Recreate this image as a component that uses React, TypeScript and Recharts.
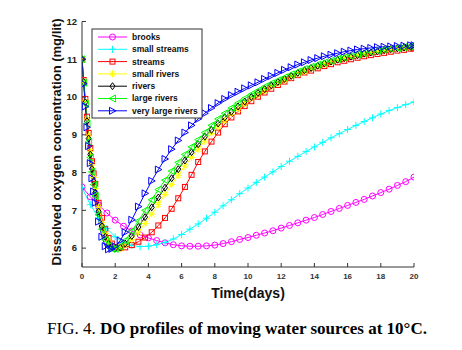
import React from 'react';
import { LineChart, Line, XAxis, YAxis } from 'recharts';

// time grids (days)
const tMain = [0, 0.1, 0.2, 0.3, 0.4, 0.5, 0.6, 0.7, 0.8, 1.0, 1.2, 1.4, 1.6, 1.8, 2.0, 2.3, 2.6,
  3.0, 3.4, 3.8, 4.2, 4.6, 5.0, 5.4, 5.8, 6.2, 6.6, 7.0, 7.4, 7.8, 8.2, 8.6, 9.0, 9.4, 9.8,
  10.2, 10.6, 11.0, 11.4, 11.8, 12.2, 12.6, 13.0, 13.4, 13.8, 14.2, 14.6, 15.0, 15.4, 15.8,
  16.2, 16.6, 17.0, 17.4, 17.8, 18.2, 18.6, 19.0, 19.4, 19.8, 20];
const tSlow = [0, 0.5, 1, 1.5, 2, 2.5, 3, 3.5, 4, 4.5, 5, 5.5, 6, 6.5, 7, 7.5, 8, 8.5, 9, 9.5,
  10, 10.5, 11, 11.5, 12, 12.5, 13, 13.5, 14, 14.5, 15, 15.5, 16, 16.5, 17, 17.5, 18, 18.5, 19, 19.5, 20];

// DO values (mg/lit)
const brooks = [7.62, 7.36, 7.14, 6.93, 6.74, 6.58, 6.45, 6.35, 6.27, 6.2, 6.14, 6.09, 6.06, 6.05, 6.05,
  6.06, 6.08, 6.12, 6.17, 6.23, 6.28, 6.34, 6.4, 6.46, 6.53, 6.6, 6.67, 6.74, 6.81, 6.89, 6.97, 7.05,
  7.13, 7.21, 7.29, 7.38, 7.47, 7.56, 7.66, 7.76, 7.88];
const smallStreams = [7.6, 7.15, 6.8, 6.52, 6.3, 6.15, 6.07, 6.04, 6.05, 6.09, 6.15, 6.24, 6.36, 6.5, 6.64,
  6.79, 6.95, 7.12, 7.28, 7.44, 7.59, 7.74, 7.88, 8.02, 8.16, 8.3, 8.43, 8.56, 8.68, 8.8, 8.92, 9.03,
  9.14, 9.25, 9.35, 9.45, 9.55, 9.64, 9.72, 9.8, 9.87];
const streams = [11.0, 10.45, 9.95, 9.48, 9.05, 8.65, 8.3, 7.98, 7.7, 7.2, 6.8, 6.5, 6.27, 6.12, 6.03,
  6.0, 6.02, 6.08, 6.17, 6.28, 6.42, 6.6, 6.8, 7.04, 7.32, 7.62, 7.94, 8.28, 8.56, 8.82, 9.06, 9.28,
  9.46, 9.62, 9.76, 9.89, 10.01, 10.12, 10.22, 10.32, 10.41, 10.5, 10.58, 10.65, 10.7, 10.76, 10.82,
  10.87, 10.92, 10.96, 11.0, 11.04, 11.08, 11.11, 11.14, 11.17, 11.2, 11.23, 11.25, 11.28, 11.29];
const smallRivers = [11.0, 10.42, 9.9, 9.42, 8.97, 8.56, 8.2, 7.87, 7.58, 7.08, 6.68, 6.39, 6.19, 6.07, 6.01,
  6.0, 6.07, 6.22, 6.42, 6.65, 6.9, 7.16, 7.42, 7.68, 7.93, 8.17, 8.4, 8.62, 8.83, 9.03, 9.21, 9.38,
  9.54, 9.68, 9.82, 9.95, 10.06, 10.17, 10.27, 10.36, 10.45, 10.53, 10.61, 10.68, 10.75, 10.81, 10.87,
  10.92, 10.97, 11.02, 11.06, 11.1, 11.14, 11.17, 11.2, 11.23, 11.26, 11.28, 11.3, 11.32, 11.33];
const rivers = [11.0, 10.4, 9.86, 9.36, 8.9, 8.48, 8.1, 7.77, 7.47, 6.97, 6.58, 6.3, 6.12, 6.02, 5.99,
  6.02, 6.12, 6.32, 6.56, 6.82, 7.08, 7.34, 7.6, 7.85, 8.09, 8.32, 8.54, 8.75, 8.95, 9.13, 9.3, 9.46,
  9.61, 9.75, 9.88, 10.0, 10.11, 10.21, 10.31, 10.4, 10.48, 10.56, 10.64, 10.71, 10.77, 10.83, 10.89,
  10.94, 10.99, 11.03, 11.07, 11.11, 11.15, 11.18, 11.21, 11.24, 11.27, 11.29, 11.31, 11.33, 11.34];
const largeRivers = [11.0, 10.38, 9.82, 9.3, 8.82, 8.4, 8.02, 7.68, 7.38, 6.88, 6.5, 6.22, 6.05, 5.98, 5.98,
  6.05, 6.2, 6.45, 6.72, 7.0, 7.28, 7.55, 7.8, 8.04, 8.27, 8.48, 8.68, 8.87, 9.06, 9.25, 9.42, 9.57,
  9.71, 9.84, 9.96, 10.07, 10.17, 10.27, 10.36, 10.44, 10.52, 10.6, 10.67, 10.74, 10.8, 10.86, 10.91,
  10.96, 11.01, 11.05, 11.09, 11.13, 11.17, 11.2, 11.23, 11.26, 11.28, 11.3, 11.32, 11.34, 11.35];
const veryLargeRivers = [11.0, 10.35, 9.75, 9.2, 8.7, 8.25, 7.85, 7.5, 7.2, 6.7, 6.3, 6.05, 5.97, 5.98, 6.05,
  6.2, 6.42, 6.75, 7.1, 7.45, 7.78, 8.08, 8.36, 8.62, 8.85, 9.06, 9.25, 9.42, 9.57, 9.71, 9.84, 9.95,
  10.05, 10.14, 10.23, 10.31, 10.39, 10.48, 10.56, 10.64, 10.72, 10.79, 10.86, 10.92, 10.98, 11.03, 11.08,
  11.12, 11.16, 11.2, 11.23, 11.26, 11.28, 11.3, 11.32, 11.33, 11.34, 11.35, 11.36, 11.37, 11.37];

const xTicks = [0, 2, 4, 6, 8, 10, 12, 14, 16, 18, 20];
const yTicks = [6, 7, 8, 9, 10, 11, 12];
const seriesNames = ['brooks', 'small streams', 'streams', 'small rivers', 'rivers', 'large rivers', 'very large rivers'];

const slowData = tSlow.map((t, i) => ({ t, brooks: brooks[i], smallStreams: smallStreams[i] }));
const mainData = tMain.map((t, i) => ({
  t,
  streams: streams[i],
  smallRivers: smallRivers[i],
  rivers: rivers[i],
  largeRivers: largeRivers[i],
  veryLargeRivers: veryLargeRivers[i],
}));

const series = [
  { key: 'brooks', name: seriesNames[0], color: '#ff00ff', shape: 'circle', data: slowData },
  { key: 'smallStreams', name: seriesNames[1], color: '#00ffff', shape: 'plus', data: slowData },
  { key: 'streams', name: seriesNames[2], color: '#ff0000', shape: 'square', data: mainData },
  { key: 'smallRivers', name: seriesNames[3], color: '#ffff00', shape: 'star', data: mainData },
  { key: 'rivers', name: seriesNames[4], color: '#000000', shape: 'diamond', data: mainData },
  { key: 'largeRivers', name: seriesNames[5], color: '#00ff00', shape: 'triLeft', data: mainData },
  { key: 'veryLargeRivers', name: seriesNames[6], color: '#0000ff', shape: 'triRight', data: mainData },
];

const FONT = '"Liberation Sans", Arial, sans-serif';

function Marker({ shape, cx, cy, color }: { shape: string; cx: number; cy: number; color: string }) {
  const common = { fill: 'none', stroke: color, strokeWidth: 1 };
  if (cx == null || cy == null || isNaN(cx) || isNaN(cy)) return null;
  switch (shape) {
    case 'circle':
      return <circle cx={cx} cy={cy} r={3} {...common} />;
    case 'plus':
      return <path d={`M${cx - 3.5},${cy}H${cx + 3.5}M${cx},${cy - 3.5}V${cy + 3.5}`} {...common} />;
    case 'square':
      return <rect x={cx - 2.5} y={cy - 2.5} width={5} height={5} {...common} />;
    case 'star':
      return (
        <path
          d={`M${cx - 3.5},${cy}H${cx + 3.5}M${cx},${cy - 3.5}V${cy + 3.5}M${cx - 2.5},${cy - 2.5}L${cx + 2.5},${cy + 2.5}M${cx - 2.5},${cy + 2.5}L${cx + 2.5},${cy - 2.5}`}
          {...common}
        />
      );
    case 'diamond':
      return <path d={`M${cx},${cy - 3.5}L${cx + 2.5},${cy}L${cx},${cy + 3.5}L${cx - 2.5},${cy}Z`} {...common} />;
    case 'triLeft':
      return <path d={`M${cx - 3.5},${cy}L${cx + 3},${cy - 3.5}L${cx + 3},${cy + 3.5}Z`} {...common} />;
    case 'triRight':
      return <path d={`M${cx + 3.5},${cy}L${cx - 3},${cy - 3.5}L${cx - 3},${cy + 3.5}Z`} {...common} />;
    default:
      return null;
  }
}

const TICK = 4;

const BottomTick = (props: any) => {
  const { x, y, payload } = props;
  return (
    <g>
      <line x1={x} x2={x} y1={y - 6} y2={y - 6 - TICK} stroke="#333" />
      <text x={x} y={y} dy="0.71em" textAnchor="middle" fontFamily={FONT} fontSize={8} fontWeight="bold" fill="#333">
        {payload.value}
      </text>
    </g>
  );
};
const TopTick = (props: any) => {
  const { x, y } = props;
  return <line x1={x} x2={x} y1={y} y2={y + TICK} stroke="#333" />;
};
const LeftTick = (props: any) => {
  const { x, y, payload } = props;
  return (
    <g>
      <line x1={x + 5} x2={x + 5 + TICK} y1={y} y2={y} stroke="#333" />
      <text x={x} y={y} dy="0.35em" textAnchor="end" fontFamily={FONT} fontSize={9.5} fontWeight="bold" fill="#222">
        {payload.value}
      </text>
    </g>
  );
};
const RightTick = (props: any) => {
  const { x, y } = props;
  return <line x1={x} x2={x - TICK} y1={y} y2={y} stroke="#333" />;
};

export default function App() {
  const legendX = 92;
  const legendY = 29;
  const rowH = 12.3;
  return (
    <div style={{ position: 'absolute', left: 0, top: 0, width: 462, height: 350, background: '#fff' }}>
      <LineChart width={462} height={350} margin={{ top: 21.5, right: 48, bottom: 53, left: 0 }}>
        <XAxis
          type="number"
          dataKey="t"
          domain={[0, 20]}
          ticks={xTicks}
          interval={0}
          height={30}
          tickSize={0}
          tickMargin={6}
          tickLine={false}
          tick={<BottomTick />}
          axisLine={{ stroke: '#333' }}
          allowDataOverflow
        />
        <XAxis
          xAxisId="top"
          orientation="top"
          type="number"
          dataKey="t"
          domain={[0, 20]}
          ticks={xTicks}
          interval={0}
          height={0}
          tickSize={0}
          tickMargin={0}
          tickLine={false}
          tick={<TopTick />}
          axisLine={{ stroke: '#333' }}
          allowDataOverflow
        />
        <YAxis
          type="number"
          domain={[5.5, 12]}
          ticks={yTicks}
          interval={0}
          width={82}
          tickSize={0}
          tickMargin={5}
          tickLine={false}
          tick={<LeftTick />}
          axisLine={{ stroke: '#333' }}
          allowDataOverflow
        />
        <YAxis
          yAxisId="right"
          orientation="right"
          type="number"
          domain={[5.5, 12]}
          ticks={yTicks}
          interval={0}
          width={0}
          tickSize={0}
          tickMargin={0}
          tickLine={false}
          tick={<RightTick />}
          axisLine={{ stroke: '#777', strokeWidth: 1.5 }}
          allowDataOverflow
        />
        {series.map((s) => (
          <Line
            key={s.key}
            data={s.data}
            dataKey={s.key}
            name={s.name}
            type="linear"
            stroke={s.color}
            strokeWidth={1}
            isAnimationActive={false}
            dot={(p: any) => <Marker key={`${s.key}-${p.index}`} shape={s.shape} cx={p.cx} cy={p.cy} color={s.color} />}
            activeDot={false}
          />
        ))}
      </LineChart>
      <svg width={462} height={350} style={{ position: 'absolute', left: 0, top: 0, pointerEvents: 'none' }}>
        <g>
          <rect x={legendX} y={legendY} width={110} height={89} fill="#fff" stroke="#333" strokeWidth={1} />
          {series.map((s, i) => {
            const cy = legendY + 8 + i * rowH;
            return (
              <g key={s.key}>
                <line x1={legendX + 6} x2={legendX + 35} y1={cy} y2={cy} stroke={s.color} strokeWidth={1} />
                <Marker shape={s.shape} cx={legendX + 20.5} cy={cy} color={s.color} />
                <text x={legendX + 40} y={cy} dy="0.35em" fontFamily={FONT} fontSize={8.5} fontWeight="bold" fill="#111">
                  {s.name}
                </text>
              </g>
            );
          })}
        </g>
        <text x={248} y={298} textAnchor="middle" fontFamily={FONT} fontSize={14} fontWeight="bold" fill="#111">
          Time(days)
        </text>
        <text
          x={61}
          y={142}
          transform="rotate(-90 61 142)"
          textAnchor="middle"
          fontFamily={FONT}
          fontSize={13}
          fontWeight="bold"
          fill="#111"
        >
          Dissolved oxygen concentration (mg/lit)
        </text>
        <text x={237} y={334} textAnchor="middle" fontFamily='"Liberation Serif", "Times New Roman", serif' fontSize={17} fill="#000">
          FIG. 4. <tspan fontWeight="bold">DO profiles of moving water sources at 10°C.</tspan>
        </text>
      </svg>
    </div>
  );
}
